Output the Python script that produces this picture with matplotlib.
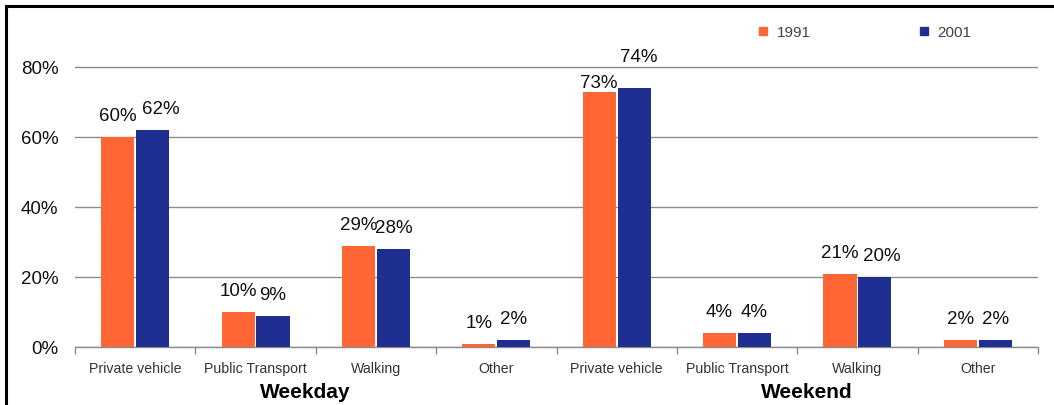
import matplotlib
matplotlib.use("Agg")
import matplotlib.pyplot as plt
from matplotlib.lines import Line2D
from matplotlib.patches import Rectangle
import numpy as np

# Trip mode shares (%) by day type
categories = ["Private vehicle", "Public Transport", "Walking", "Other"]
groups = ["Weekday", "Weekend"]
weekday_1991 = [60, 10, 29, 1]
weekday_2001 = [62, 9, 28, 2]
weekend_1991 = [73, 4, 21, 2]
weekend_2001 = [74, 4, 20, 2]
series_names = ["1991", "2001"]
y_ticks = [0, 20, 40, 60, 80]

COL_1991 = "#FF6633"
COL_2001 = "#1F2F91"
GRID = "#8C8C8C"

plt.rcParams["font.family"] = ["Liberation Sans", "DejaVu Sans"]

vals_1991 = np.array(weekday_1991 + weekend_1991) / 100.0
vals_2001 = np.array(weekday_2001 + weekend_2001) / 100.0
labels = categories + categories
x = np.arange(len(labels))

fig = plt.figure(figsize=(10.54, 4.06), dpi=100)
ax = fig.add_axes([75 / 1054, 1 - 348 / 406, (1038 - 75) / 1054, 315 / 406])

w = 0.275
off = 0.145
b1 = ax.bar(x - off, vals_1991, w, color=COL_1991, zorder=3)
b2 = ax.bar(x + off, vals_2001, w, color=COL_2001, zorder=3)

ax.set_xlim(-0.5, len(labels) - 0.5)
ax.set_ylim(0, 0.9)
ax.set_yticks(np.array(y_ticks) / 100.0)
ax.set_yticklabels([f"{t}%" for t in y_ticks], fontsize=13.5, color="#111111")
ax.tick_params(axis="y", length=0, pad=12)
ax.yaxis.grid(True, color=GRID, lw=1.0, zorder=0)
ax.set_axisbelow(True)

ax.set_xticks(x)
ax.set_xticklabels(labels, fontsize=10.2, color="#333333")
ax.tick_params(axis="x", which="major", length=0, pad=10)
ax.set_xticks(np.arange(len(labels) + 1) - 0.5, minor=True)
ax.tick_params(axis="x", which="minor", length=5, color=GRID, width=1)

for s in ["top", "right", "left"]:
    ax.spines[s].set_visible(False)
ax.spines["bottom"].set_color(GRID)
ax.spines["bottom"].set_linewidth(1.0)

# value labels above bars, with a few hand nudges (pixels)
nudge_1991 = {4: (0, -12)}
nudge_2001 = {0: (8, 0), 4: (5, 11), 6: (7, 0)}
for bars, vals, nudge in ((b1, vals_1991, nudge_1991), (b2, vals_2001, nudge_2001)):
    for i, (bar, v) in enumerate(zip(bars, vals)):
        dx, dy = nudge.get(i, (0, 0))
        ax.annotate(f"{round(v * 100)}%",
                    xy=(bar.get_x() + bar.get_width() / 2, v),
                    xytext=(dx, 21 + dy), textcoords="offset pixels",
                    ha="center", va="center", fontsize=13.5, color="#111111")

# group titles under the category labels
for gx, name in zip([1.41, 5.58], groups):
    ax.text(gx, -0.14, name, transform=ax.get_xaxis_transform(),
            ha="center", va="center", fontsize=15, fontweight="bold")

handles = [Line2D([], [], marker="s", ls="", color=c, markersize=6) for c in (COL_1991, COL_2001)]
leg = fig.legend(handles, series_names, loc="center left",
                 bbox_to_anchor=(757 / 1054, 1 - 33 / 406), ncol=2, frameon=False,
                 fontsize=11, handlelength=0.8, handletextpad=0.5,
                 columnspacing=7.0, borderpad=0, borderaxespad=0)
for t in leg.get_texts():
    t.set_color("#444444")

# outer frame
fig.add_artist(Rectangle((6 / 1054, -0.1), 1.2, 1 - 6.5 / 406 + 0.1,
                         transform=fig.transFigure, fill=False,
                         edgecolor="black", lw=2.2, clip_on=False))

fig.savefig("out.png", dpi=100)
